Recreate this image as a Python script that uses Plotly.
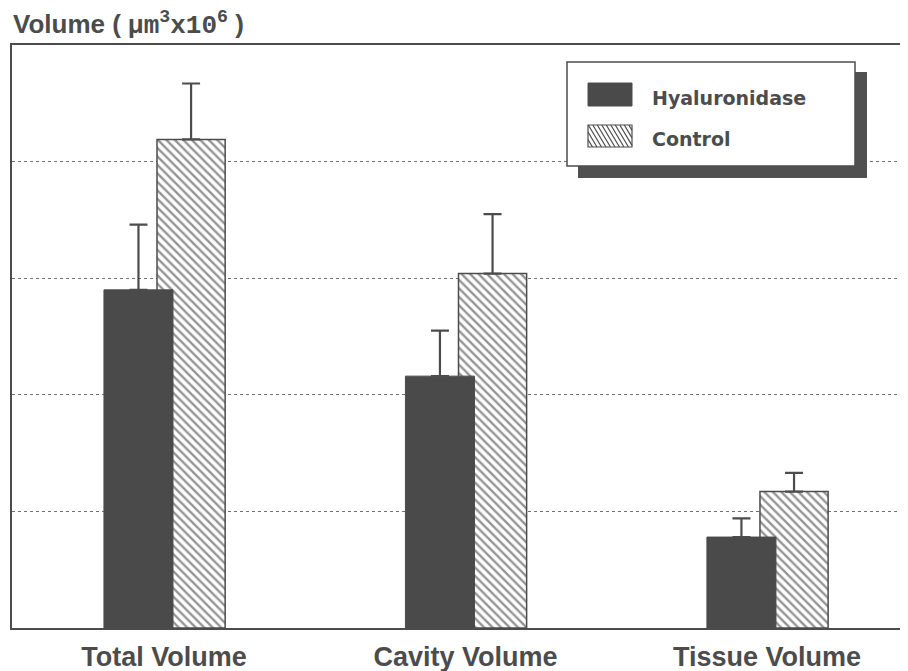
import plotly.graph_objects as go

# ---- data (y in gridline units) ----
categories = ["Total Volume", "Cavity Volume", "Tissue Volume"]
hyaluronidase = [2.90, 2.16, 0.78]
hyaluronidase_err = [0.56, 0.39, 0.16]
control = [4.19, 3.04, 1.17]
control_err = [0.48, 0.51, 0.16]
series_names = ["Hyaluronidase", "Control"]

INK = "#4c4c4c"
# page has an 8px body margin; figure is sized to fit inside the window
FW, FH = 900, 663
L, R, T, B = 4, 0, 37, 43
# plot area in window pixels
X0, X1, Y0, Y1 = 12, 908, 45, 628


def px(x):
    return (x - X0) / (X1 - X0)


def py(y):
    return (Y1 - y) / (Y1 - Y0)


fig = go.Figure()

fig.add_trace(go.Bar(
    x=categories, y=control, name=series_names[1],
    offset=-0.023, width=0.226,
    marker=dict(color="white", line=dict(color=INK, width=1.5),
                pattern=dict(shape="\\", fgcolor="#2a2a2a", bgcolor="white", size=6, solidity=0.4)),
    error_y=dict(type="data", array=control_err, arrayminus=[0] * len(control_err),
                 symmetric=False, color=INK, thickness=2.2, width=9),
    showlegend=False,
))
fig.add_trace(go.Bar(
    x=categories, y=hyaluronidase, name=series_names[0],
    offset=-0.199, width=0.229,
    marker=dict(color="#4a4a4a", line=dict(color=INK, width=1)),
    error_y=dict(type="data", array=hyaluronidase_err, arrayminus=[0] * len(hyaluronidase_err),
                 symmetric=False, color=INK, thickness=2.2, width=9),
    showlegend=False,
))

shapes = []
# legend shadow + box
shapes.append(dict(type="rect", xref="paper", yref="paper",
                   x0=px(578), x1=px(867), y0=py(178), y1=py(72),
                   fillcolor="#505050", line=dict(width=0), layer="above"))
shapes.append(dict(type="rect", xref="paper", yref="paper",
                   x0=px(567), x1=px(855), y0=py(166), y1=py(62),
                   fillcolor="white", line=dict(color=INK, width=1.5), layer="above"))
# swatch: solid
shapes.append(dict(type="rect", xref="paper", yref="paper",
                   x0=px(588), x1=px(632), y0=py(106), y1=py(83),
                   fillcolor="#4a4a4a", line=dict(color=INK, width=1), layer="above"))
# swatch: hatched
sx0, sx1, sy0, sy1 = 588, 632, 125, 147
shapes.append(dict(type="rect", xref="paper", yref="paper",
                   x0=px(sx0), x1=px(sx1), y0=py(sy1), y1=py(sy0),
                   fillcolor="white", line=dict(color=INK, width=1.2), layer="above"))
k = 0.6  # horizontal shift per vertical pixel
segs = []
c = sx0 - (sy1 - sy0) * k
while c < sx1:
    ya, yb = sy0, sy1
    xa, xb = c, c + k * (sy1 - sy0)
    if xa < sx0:
        ya = sy0 + (sx0 - c) / k
        xa = sx0
    if xb > sx1:
        yb = sy0 + (sx1 - c) / k
        xb = sx1
    if yb > ya:
        segs.append(f"M{px(xa)},{py(ya)} L{px(xb)},{py(yb)}")
    c += 4.5
shapes.append(dict(type="path", xref="paper", yref="paper", path=" ".join(segs),
                   line=dict(color=INK, width=1.2), layer="above"))

annotations = [
    dict(xref="paper", yref="paper", x=px(650), y=py(98), xanchor="left", yanchor="middle",
         text="<b>" + series_names[0] + "</b>", showarrow=False,
         font=dict(family="DejaVu Sans", size=19, color=INK)),
    dict(xref="paper", yref="paper", x=px(650), y=py(139), xanchor="left", yanchor="middle",
         text="<b>" + series_names[1] + "</b>", showarrow=False,
         font=dict(family="DejaVu Sans", size=19, color=INK)),
    dict(xref="paper", yref="paper", x=px(11), y=py(24), xanchor="left", yanchor="middle",
         text="<b>Volume ( <span style='font-family:Liberation Mono'>µm<sup>3</sup>x10<sup>6</sup></span> )</b>",
         showarrow=False, font=dict(family="Liberation Sans", size=26, color=INK)),
]

fig.update_layout(
    width=FW, height=FH,
    margin=dict(l=L, r=R, t=T, b=B, pad=0),
    paper_bgcolor="white", plot_bgcolor="white",
    barmode="overlay",
    shapes=shapes, annotations=annotations,
    font=dict(family="Liberation Sans", color=INK),
    xaxis=dict(range=[-0.504, 2.468], showgrid=False, showline=True, linecolor=INK, linewidth=2,
               mirror=True, ticks="", automargin=False, ticklabelstandoff=4,
               tickfont=dict(family="Liberation Sans", size=27, color=INK),
               tickprefix="<b>", ticksuffix="</b>"),
    yaxis=dict(range=[0, 5], dtick=1, showgrid=True, gridcolor="#707070", gridwidth=1.2,
               griddash="dot", showline=True, linecolor=INK, linewidth=2,
               showticklabels=False, ticks="", zeroline=False, automargin=False),
)

fig.write_html("out.html")
